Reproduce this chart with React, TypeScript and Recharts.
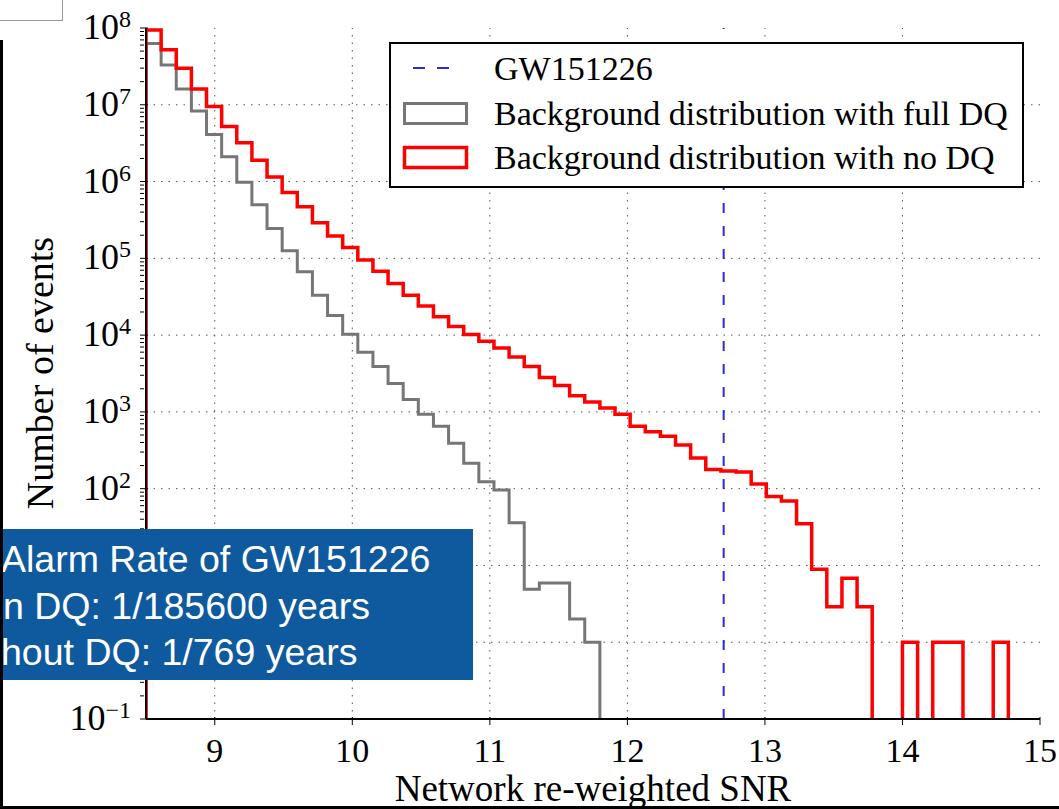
import { LineChart, Line, XAxis, YAxis, ReferenceLine } from 'recharts';

// histogram bin edges (network re-weighted SNR)
const binEdges = [
    8.5, 8.61, 8.72, 8.83, 8.94, 9.05, 9.16, 9.27, 9.38, 9.49, 9.6, 9.71, 9.82, 9.93, 10.04,
    10.15, 10.26, 10.37, 10.48, 10.59, 10.7, 10.81, 10.92, 11.03, 11.14, 11.25, 11.36, 11.47,
    11.58, 11.69, 11.8, 11.91, 12.02, 12.13, 12.24, 12.35, 12.46, 12.57, 12.68, 12.79, 12.9,
    13.01, 13.12, 13.23, 13.34, 13.45, 13.56, 13.67, 13.78, 13.89, 14.0, 14.11, 14.22, 14.33,
    14.44, 14.55, 14.66, 14.77,
];

// counts per bin, background with full DQ
const fullDqCounts = [
    6.3e7, 3.3e7, 1.6e7, 8.3e6, 4.1e6, 2.1e6, 9.8e5, 5.0e5, 2.45e5, 1.26e5, 6.7e4, 3.3e4, 1.8e4,
    1.03e4, 6.0e3, 3.9e3, 2.35e3, 1.45e3, 930, 650, 390, 215, 123, 96, 36, 4.9, 5.9, 5.9, 2.0, 1.0,
];

// counts per bin, background with no DQ
const noDqCounts = [
    9.4e7, 5.2e7, 3.0e7, 1.6e7, 9.5e6, 5.2e6, 3.2e6, 1.9e6, 1.15e6, 7.2e5, 4.7e5, 2.9e5, 1.95e5,
    1.38e5, 9.5e4, 6.8e4, 4.7e4, 3.3e4, 2.4e4, 1.74e4, 1.29e4, 1.02e4, 8.3e3, 6.8e3, 5.2e3, 3.9e3,
    2.8e3, 2.2e3, 1.62e3, 1.35e3, 1.12e3, 930, 650, 550, 480, 370, 250, 178, 170, 165, 115, 79, 69,
    35, 8.9, 2.9, 6.8, 2.9, 0, 0, 1, 0, 1, 1, 0, 0, 1,
];

const gwSnr = 12.7;

const xTicks = [9, 10, 11, 12, 13, 14, 15];
const yMajorTicks = [0.1, 1, 10, 100, 1e3, 1e4, 1e5, 1e6, 1e7, 1e8];
const yTickExponents = ['\u22121', '0', '1', '2', '3', '4', '5', '6', '7', '8'];
// these two labels sit behind the rate box in the slide
const yHiddenLabels = [1, 10];
const minorFactors = [2, 3, 4, 5, 6, 7, 8, 9];

const legendLabels = [
    'GW151226',
    'Background distribution with full DQ',
    'Background distribution with no DQ',
];
const boxLines = ['Alarm Rate of GW151226', 'n DQ: 1/185600 years', 'hout DQ: 1/769 years'];

const FLOOR = 1e-3; // empty bins fall below the axis and get clipped
const SERIF = '"Liberation Serif", "Times New Roman", serif';
const SANS = '"Liberation Sans", Arial, sans-serif';

const yMinorTicks = yMajorTicks.slice(0, -1).flatMap((d) => minorFactors.map((m) => d * m));
const yAllTicks = [...yMajorTicks, ...yMinorTicks].sort((a, b) => a - b);

const majorIndex = (v: number) =>
    yMajorTicks.findIndex((t) => Math.abs(Math.log10(t) - Math.log10(v)) < 1e-6);

const toSteps = (counts: number[]) => [
    { x: binEdges[0], y: FLOOR },
    ...counts.map((c, i) => ({ x: binEdges[i], y: c > 0 ? c : FLOOR })),
    { x: binEdges[counts.length], y: FLOOR },
];

const fullDqSteps = toSteps(fullDqCounts);
const noDqSteps = toSteps(noDqCounts);

const LeftTick = ({ x, y, payload }: any) => {
    const i = majorIndex(payload.value);
    const showLabel = i >= 0 && !yHiddenLabels.includes(yMajorTicks[i]);
    return (
        <g>
            <line x1={x} x2={x + (i >= 0 ? 8 : 4)} y1={y} y2={y} stroke='#000' strokeWidth={1} />
            {showLabel && (
                <text x={x - 9} y={y + 11} textAnchor='end' fontFamily={SERIF} fontSize={36} fill='#000'>
                    10
                    <tspan dy={-12} fontSize={24}>
                        {yTickExponents[i]}
                    </tspan>
                </text>
            )}
        </g>
    );
};

const RightTick = ({ x, y, payload }: any) => {
    const i = majorIndex(payload.value);
    return <line x1={x} x2={x - (i >= 0 ? 8 : 4)} y1={y} y2={y} stroke='#000' strokeWidth={1} />;
};

const BottomTick = ({ x, y, payload }: any) => (
    <g>
        <line x1={x} x2={x} y1={y} y2={y - 8} stroke='#000' strokeWidth={1} />
        <text x={x} y={y + 37} textAnchor='middle' fontFamily={SERIF} fontSize={34} fill='#000'>
            {payload.value}
        </text>
    </g>
);

const TopTick = ({ x, y }: any) => <line x1={x} x2={x} y1={y} y2={y + 8} stroke='#000' strokeWidth={1} />;

const axisLine = { stroke: '#000', strokeWidth: 2 };

const App = () => {
    return (
        <div
            style={{
                position: 'absolute',
                left: 0,
                top: 0,
                width: 1059,
                height: 809,
                overflow: 'hidden',
                background: '#fff',
            }}
        >
            <LineChart width={1059} height={809} margin={{ top: 28, right: 19, left: 0, bottom: 0 }}>
                <XAxis
                    type='number'
                    dataKey='x'
                    domain={[8.5, 15]}
                    ticks={xTicks}
                    interval={0}
                    allowDataOverflow
                    height={90}
                    tickLine={false}
                    tickMargin={0}
                    axisLine={axisLine}
                    tick={<BottomTick />}
                    label={{
                        value: 'Network re-weighted SNR',
                        content: (p: any) => (
                            <text
                                x={(146 + 1040) / 2}
                                y={801}
                                textAnchor='middle'
                                fontFamily={SERIF}
                                fontSize={37}
                                fill='#000'
                            >
                                {p.value}
                            </text>
                        ),
                    }}
                />
                <XAxis
                    xAxisId='top'
                    orientation='top'
                    type='number'
                    domain={[8.5, 15]}
                    ticks={xTicks}
                    interval={0}
                    allowDataOverflow
                    height={0}
                    tickLine={false}
                    tickMargin={0}
                    axisLine={axisLine}
                    tick={<TopTick />}
                />
                <YAxis
                    type='number'
                    scale='log'
                    domain={[0.1, 1e8]}
                    ticks={yAllTicks}
                    interval={0}
                    allowDataOverflow
                    width={146}
                    tickLine={false}
                    tickMargin={0}
                    axisLine={axisLine}
                    tick={<LeftTick />}
                    label={{
                        value: 'Number of events',
                        content: (p: any) => (
                            <text
                                x={40}
                                y={373}
                                transform='rotate(-90 40 373)'
                                textAnchor='middle'
                                dominantBaseline='central'
                                fontFamily={SERIF}
                                fontSize={38}
                                fill='#000'
                            >
                                {p.value}
                            </text>
                        ),
                    }}
                />
                <YAxis
                    yAxisId='right'
                    orientation='right'
                    type='number'
                    scale='log'
                    domain={[0.1, 1e8]}
                    ticks={yAllTicks}
                    interval={0}
                    allowDataOverflow
                    width={0}
                    tickLine={false}
                    tickMargin={0}
                    axisLine={axisLine}
                    tick={<RightTick />}
                />
                {yMajorTicks.slice(1, -1).map((v) => (
                    <ReferenceLine key={'h' + v} y={v} stroke='#555' strokeWidth={1} strokeDasharray='1.5 6' />
                ))}
                {xTicks.slice(0, -1).map((v) => (
                    <ReferenceLine key={'v' + v} x={v} stroke='#555' strokeWidth={1} strokeDasharray='1.5 6' />
                ))}
                <Line
                    data={fullDqSteps}
                    dataKey='y'
                    type='stepAfter'
                    stroke='#767676'
                    strokeWidth={3}
                    dot={false}
                    activeDot={false}
                    isAnimationActive={false}
                />
                <Line
                    data={noDqSteps}
                    dataKey='y'
                    type='stepAfter'
                    stroke='#ff0000'
                    strokeWidth={3.5}
                    dot={false}
                    activeDot={false}
                    isAnimationActive={false}
                />
                <ReferenceLine x={gwSnr} stroke='#2b2bd6' strokeWidth={2} strokeDasharray='10 13' />
            </LineChart>

            {/* legend */}
            <svg
                width={636}
                height={147}
                style={{ position: 'absolute', left: 389, top: 42 }}
            >
                <rect x={1} y={1} width={633} height={144} fill='#fff' stroke='#000' strokeWidth={2} />
                <line x1={24} x2={60} y1={26} y2={26} stroke='#2b2bd6' strokeWidth={2} strokeDasharray='12 12' />
                <rect x={15.5} y={61.5} width={62} height={20} fill='none' stroke='#767676' strokeWidth={3} />
                <rect x={15.5} y={105.5} width={62} height={20} fill='none' stroke='#ff0000' strokeWidth={3.5} />
                {legendLabels.map((t, i) => (
                    <text key={t} x={105} y={38 + i * 44.5} fontFamily={SERIF} fontSize={34} fill='#000'>
                        {t}
                    </text>
                ))}
            </svg>

            {/* false alarm rate box */}
            <svg width={473} height={151} style={{ position: 'absolute', left: 0, top: 529 }}>
                <rect x={0} y={0} width={473} height={151} fill='#0f5a9e' />
                {boxLines.map((t, i) => (
                    <text
                        key={t}
                        x={i === 1 ? 3 : 1}
                        y={43 + i * 46.5}
                        fontFamily={SANS}
                        fontSize={37.5}
                        fill='#fff'
                    >
                        {t}
                    </text>
                ))}
            </svg>

            {/* page edges of the clipped slide */}
            <div style={{ position: 'absolute', left: 0, top: 40, width: 3, height: 769, background: '#000' }} />
            <div style={{ position: 'absolute', left: 0, top: 806, width: 1059, height: 3, background: '#000' }} />
            <div
                style={{
                    position: 'absolute',
                    left: 0,
                    top: 0,
                    width: 62,
                    height: 20,
                    borderRight: '1px solid #999',
                    borderBottom: '1px solid #999',
                }}
            />
        </div>
    );
};

export default App;
